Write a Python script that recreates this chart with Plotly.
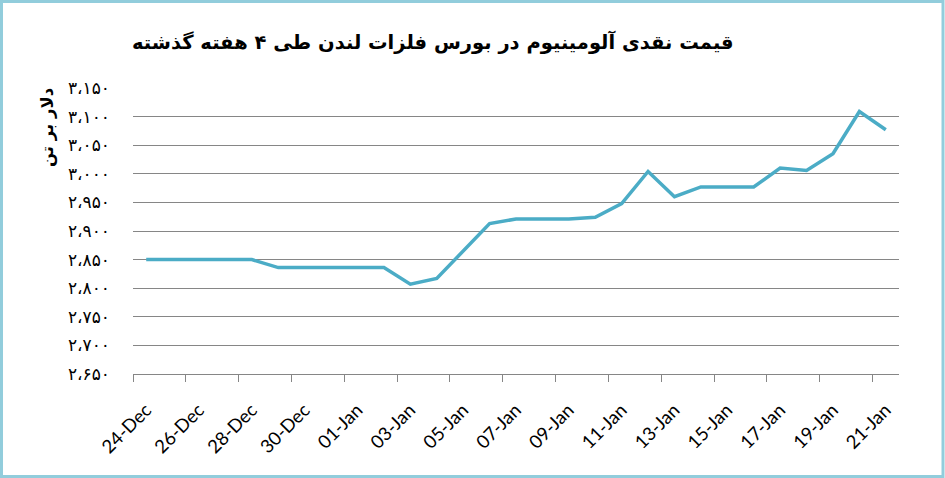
import plotly.graph_objects as go

# LME aluminium cash price, last 4 weeks
dates = ["2013-12-24", "2013-12-28", "2013-12-29", "2014-01-02", "2014-01-03",
         "2014-01-04", "2014-01-06", "2014-01-07", "2014-01-09", "2014-01-10",
         "2014-01-11", "2014-01-12", "2014-01-13", "2014-01-14", "2014-01-16",
         "2014-01-17", "2014-01-18", "2014-01-19", "2014-01-20", "2014-01-21"]
prices = [2850, 2850, 2836, 2836, 2807, 2817, 2913, 2921, 2921, 2924,
          2948, 3004, 2960, 2977, 2977, 3010, 3006, 3035, 3109, 3077]

y_ticks = [2650, 2700, 2750, 2800, 2850, 2900, 2950, 3000, 3050, 3100, 3150]
y_tick_labels = ["۲،۶۵۰", "۲،۷۰۰", "۲،۷۵۰", "۲،۸۰۰", "۲،۸۵۰", "۲،۹۰۰",
                 "۲،۹۵۰", "۳،۰۰۰", "۳،۰۵۰", "۳،۱۰۰", "۳،۱۵۰"]

title_text = "قیمت نقدی آلومینیوم در بورس فلزات لندن طی ۴ هفته گذشته"
y_title = "دلار بر تن"

W, H = 945, 478
ml, mr, mt, mb = 133, 46, 88, 104
pw, ph = W - ml - mr, H - mt - mb

fig = go.Figure()
fig.add_trace(go.Scatter(
    x=dates, y=prices, mode="lines",
    xperiod=86400000, xperiodalignment="middle",
    line=dict(color="#4BACC6", width=3.5),
    showlegend=False,
))

fig.update_layout(
    width=W, height=H,
    margin=dict(l=ml, r=mr, t=mt, b=mb, autoexpand=False),
    paper_bgcolor="white", plot_bgcolor="white",
    title=dict(text=title_text, x=0.458, xref="container", xanchor="center",
               y=0.912, yref="container", yanchor="middle",
               font=dict(family="DejaVu Sans", size=19.5, color="black", weight="bold")),
)

fig.update_xaxes(
    type="date", automargin=False,
    range=["2013-12-24", "2014-01-22"],
    tick0="2013-12-24", dtick=2 * 86400000,
    tickformat="%d-%b", tickangle=-45,
    ticks="outside", ticklen=7, tickcolor="#868686",
    showline=True, linecolor="#868686", linewidth=1,
    showgrid=False, zeroline=False,
    ticklabelshift=13, ticklabelstandoff=10,
    tickfont=dict(family="Lato", size=18.5, color="black"),
)

fig.update_yaxes(
    automargin=False,
    range=[2650, 3150],
    tickvals=y_ticks, ticktext=y_tick_labels,
    showgrid=True, gridcolor="#868686", gridwidth=1,
    showline=False, zeroline=False, ticks="",
    ticklabelstandoff=22,
    tickfont=dict(family="DejaVu Sans", size=17, color="black"),
)

# y-axis title sits near the top of the axis
fig.add_annotation(
    text=y_title, textangle=-90,
    xref="paper", yref="paper",
    x=(48 - ml) / pw, y=1 - (128 - mt) / ph,
    showarrow=False, xanchor="center", yanchor="middle",
    font=dict(family="DejaVu Sans", size=16.5, color="black", weight="bold"),
)

# light blue frame round the whole picture
fig.add_shape(
    type="rect", xref="paper", yref="paper",
    x0=(1.5 - ml) / pw, x1=(W - 2 - ml) / pw,
    y0=-(mb - 1.5) / ph, y1=1 + (mt - 1.5) / ph,
    line=dict(color="#92CDDC", width=3),
    layer="below",
)

fig.write_html("out.html", config={"displayModeBar": False},
               post_script="document.body.style.margin='0';")
